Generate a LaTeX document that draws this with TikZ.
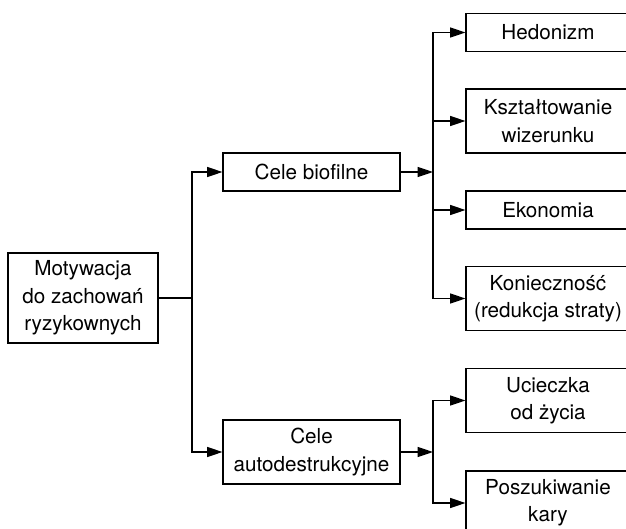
\documentclass[tikz,border=0pt]{standalone}
\usepackage{fontspec}
\setmainfont{TeX Gyre Heros}
\usetikzlibrary{arrows.meta, positioning}

\begin{document}
\begin{tikzpicture}[
  x=0.75pt, y=-0.75pt,
  >={Triangle[length=11.5pt,width=7.5pt]},
  box/.style={draw, align=center, inner sep=2pt, line width=0.8pt,
    font=\fontsize{15.5}{20.5}\selectfont},
  rootbox/.style={box, minimum width=112.5pt, minimum height=67.5pt},
  goalbox/.style={box, minimum width=132.75pt},
  leafbox/.style={box, minimum width=123pt},
  oneline/.style={minimum height=28.5pt},
  twoline/.style={minimum height=48pt},
  link/.style={line width=1pt}]

  \useasboundingbox (0,0) rectangle (626,529);
  \clip (0,0) rectangle (626,529);

  % root and the two goals
  \node[rootbox] (motyw) at (83,298) {Motywacja\\do zachowań\\ryzykownych};
  \node[goalbox, oneline] (bio) at (311.5,172) {Cele biofilne};
  \node[goalbox, twoline] (auto) at (311.5,452) {Cele\\autodestrukcyjne};

  % leaves
  \node[leafbox, oneline] (hedon) at (548,32.5) {Hedonizm};
  \node[leafbox, twoline] (wizer) at (548,121) {Kształtowanie\\wizerunku};
  \node[leafbox, oneline] (ekon) at (548,210) {Ekonomia};
  \node[leafbox, twoline] (konie) at (548,298.5) {Konieczność\\(redukcja straty)};
  \node[leafbox, twoline] (ucie) at (548,400.5) {Ucieczka\\od życia};
  \node[leafbox, twoline] (kary) at (548,503) {Poszukiwanie\\kary};

  % junctions
  \coordinate (jmotyw) at (192,298);
  \coordinate (jbio) at (433,172);
  \coordinate (jauto) at (433,452);

  \draw[link] (motyw.east) -- (jmotyw);
  \draw[link, ->] (jmotyw) |- (bio.west);
  \draw[link, ->] (jmotyw) |- (auto.west);

  \draw[link, ->] (bio.east) -- (jbio);
  \foreach \leaf in {hedon, wizer, ekon, konie}
    \draw[link, ->] (jbio) |- (\leaf.west);

  \draw[link, ->] (auto.east) -- (jauto);
  \foreach \leaf in {ucie, kary}
    \draw[link, ->] (jauto) |- (\leaf.west);
\end{tikzpicture}
\end{document}
